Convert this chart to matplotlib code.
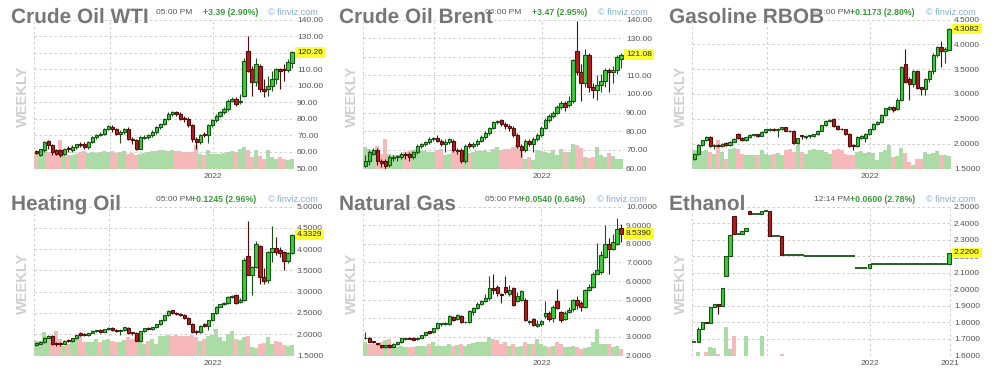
"""
Six weekly futures charts (finviz style): candlesticks with volume behind them.
"""

import numpy as np
import matplotlib.pyplot as plt
import matplotlib.patheffects as pe
from matplotlib.ticker import FormatStrFormatter, MultipleLocator
from matplotlib.transforms import blended_transform_factory

plt.rcParams["font.family"] = ["Liberation Sans", "DejaVu Sans"]

# ---------------------------------------------------------------- data
wti_open = [60.5, 58, 61, 66.5, 64, 61, 61, 58.5, 62.5, 61, 63, 65, 65, 63, 66, 69, 70, 71, 74, 75,
            74, 71, 72, 74, 68, 67, 62, 68.5, 69, 70, 72, 75, 77, 80, 83, 84, 83, 80.5, 80, 76,
            68, 66, 71, 70, 76, 79, 82, 84, 86, 91, 92, 90, 94, 121, 110, 102, 112, 98, 98, 100,
            104, 110, 110, 109.5, 114]
wti_high = [61, 62, 66.5, 67, 65, 62, 62, 62.5, 63.5, 64, 65, 66, 66, 66.5, 69.5, 71, 72, 74.5, 76, 76.5,
            74.5, 73, 74.5, 75, 69, 68, 69.5, 70, 71, 73, 75.5, 77.5, 80.5, 84, 85, 85, 84, 82, 81, 77,
            69, 71, 72, 77, 80, 83, 85, 87, 92, 93, 93, 95, 117, 130, 112, 116.5, 113, 104, 106, 109,
            111, 111, 113, 116, 121]
wti_low = [58.5, 57.5, 60, 62, 58, 58, 57, 58, 60, 60, 62, 63, 62, 62, 65.5, 68, 69.5, 70.5, 73, 72,
           70, 65.5, 71, 67, 65, 61, 61.5, 68, 68, 69, 71, 74, 76, 79, 82, 82, 79, 78, 75, 66,
           62, 65, 69, 65.5, 75, 78, 81, 83, 85, 90, 88, 89, 93, 108, 94, 100, 96, 93, 94, 97,
           101, 98, 103, 108, 111]
wti_close = [59.2, 61.5, 66, 64, 60, 59, 58, 62, 61.5, 63, 64.5, 64, 63, 66, 69, 70, 71, 74, 75.5, 74,
             71, 72, 74, 68, 67, 62, 69, 69.3, 70, 72, 75, 77, 80, 83, 84, 83, 80, 80, 76, 68,
             66, 70, 70.5, 76, 79, 82, 84, 86, 91, 92, 89, 91, 115, 109, 102, 113, 98, 97, 100, 104,
             110, 109, 109.5, 114.5, 120.26]
wti_vol = [45, 50, 52, 50, 50, 55, 85, 45, 40, 42, 45, 50, 52, 48, 50, 48, 50, 52, 50, 52,
           48, 50, 52, 45, 48, 42, 45, 48, 50, 52, 52, 55, 55, 54, 56, 52, 52, 50, 50, 50,
           70, 45, 40, 55, 45, 45, 45, 48, 50, 52, 50, 60, 65, 55, 35, 55, 38, 30, 55, 35,
           30, 35, 30, 25, 28]

brent_open = [61.5, 64, 68, 70, 64, 64, 62, 65.5, 66, 66, 68, 68, 66, 69, 72, 73, 74, 76, 76.5, 75,
              73, 74, 75, 70, 70, 64, 73, 72, 73, 75, 77, 79, 82, 85, 86, 84, 83, 82, 78, 72,
              70, 75, 73, 76, 78, 82, 86, 88, 90, 93, 95, 94, 96, 123, 112, 106, 121, 104, 102, 105,
              107, 113, 112, 113, 119]
brent_high = [67, 70, 71, 71, 65, 65, 67, 67, 67.5, 69, 69, 69, 69.5, 73, 73.5, 75, 77, 77, 78, 76,
              76, 76.5, 76, 71, 71, 73, 74, 74, 76, 78, 80, 82.5, 85.5, 86, 86.5, 85, 84, 83, 79, 73,
              76, 76, 77, 79, 83, 87, 89, 91, 94, 96, 96, 99, 119, 139, 116, 124, 122, 106, 110, 111,
              114, 114, 115, 121, 122]
brent_low = [61, 62, 67, 62, 61, 60, 61, 64, 64, 65, 65, 64, 65, 68, 71, 72, 73, 75, 74, 72,
             69, 73, 69, 68, 63, 63, 71, 71, 72, 74, 76, 78, 81, 84, 83, 81, 80, 77, 71, 66,
             69, 72, 69, 75, 77, 81, 85, 87, 89, 92, 91, 93, 95, 110, 96, 104, 101, 98, 97, 101,
             104, 101, 106, 111, 114]
brent_close = [64, 69, 70, 64, 63, 61.5, 66, 66, 66.5, 68, 67, 66, 69, 72, 73, 74, 76, 76.5, 75, 73,
               74, 76, 70, 69.5, 64, 72, 72, 73, 75, 77, 79, 82, 85, 85.5, 84, 83, 82, 78, 72, 70,
               75, 73, 76, 78, 82, 86, 88, 90, 93, 95, 93, 96, 118, 112, 106, 121, 104, 102, 105, 107,
               113, 112, 113, 120, 121.08]
brent_vol = [65, 60, 55, 68, 45, 88, 45, 40, 42, 45, 50, 52, 55, 60, 55, 52, 50, 50, 55, 58,
             40, 45, 55, 50, 45, 50, 48, 50, 52, 52, 55, 50, 60, 65, 55, 60, 58, 65, 70, 58,
             30, 35, 25, 55, 52, 50, 48, 55, 40, 60, 50, 50, 75, 70, 62, 35, 32, 35, 65, 40,
             35, 48, 38, 30, 30]

gas_open = [1.70, 1.80, 1.98, 2.07, 2.13, 1.95, 1.98, 1.96, 2.01, 1.97, 2.04, 2.20, 2.12, 2.08, 2.13,
            2.18, 2.19, 2.16, 2.24, 2.28, 2.30, 2.27, 2.30, 2.33, 2.26, 2.26, 2.01, 2.17, 2.14, 2.15,
            2.16, 2.19, 2.26, 2.37, 2.46, 2.50, 2.35, 2.30, 2.29, 2.20, 1.98, 1.95, 2.12, 2.12, 2.20,
            2.29, 2.40, 2.44, 2.58, 2.70, 2.73, 2.69, 2.88, 3.60, 3.30, 3.20, 3.46, 3.14, 3.10, 3.30,
            3.46, 3.79, 3.95, 3.86, 3.89]
gas_high = [1.82, 2.00, 2.08, 2.15, 2.16, 2.00, 2.00, 2.02, 2.03, 2.05, 2.11, 2.21, 2.14, 2.14, 2.19,
            2.20, 2.20, 2.25, 2.30, 2.31, 2.31, 2.32, 2.34, 2.34, 2.28, 2.27, 2.12, 2.18, 2.17, 2.18,
            2.20, 2.27, 2.38, 2.48, 2.49, 2.52, 2.38, 2.31, 2.30, 2.21, 2.00, 2.15, 2.17, 2.21, 2.30,
            2.41, 2.45, 2.59, 2.72, 2.76, 2.76, 2.91, 3.57, 3.90, 3.35, 3.48, 3.48, 3.15, 3.33, 3.48,
            3.82, 3.97, 4.06, 3.95, 4.32]
gas_low = [1.68, 1.78, 1.96, 2.05, 1.93, 1.90, 1.93, 1.94, 1.96, 1.95, 2.03, 2.10, 2.05, 2.06, 2.12,
           2.16, 2.13, 2.15, 2.22, 2.26, 2.25, 2.13, 2.28, 2.25, 2.23, 2.00, 2.00, 2.10, 2.09, 2.12,
           2.13, 2.17, 2.25, 2.35, 2.43, 2.34, 2.28, 2.27, 2.18, 1.94, 1.88, 1.93, 2.10, 2.03, 2.17,
           2.27, 2.38, 2.42, 2.56, 2.68, 2.64, 2.67, 2.86, 3.22, 2.88, 3.14, 3.10, 2.97, 2.98, 3.25,
           3.40, 3.75, 3.55, 3.62, 3.88]
gas_close = [1.80, 1.98, 2.07, 2.13, 1.95, 1.98, 1.96, 2.00, 1.98, 2.04, 2.10, 2.12, 2.07, 2.13, 2.18,
             2.19, 2.16, 2.24, 2.29, 2.30, 2.27, 2.30, 2.33, 2.26, 2.25, 2.02, 2.11, 2.15, 2.16, 2.17,
             2.19, 2.26, 2.37, 2.46, 2.47, 2.36, 2.30, 2.29, 2.20, 1.96, 1.95, 2.13, 2.15, 2.20, 2.29,
             2.40, 2.44, 2.58, 2.71, 2.74, 2.67, 2.88, 3.55, 3.25, 3.20, 3.46, 3.13, 3.10, 3.30, 3.46,
             3.79, 3.95, 3.86, 3.90, 4.3082]
gas_vol = [55, 55, 52, 55, 50, 45, 85, 50, 30, 60, 62, 60, 45, 40, 42, 40, 40, 55, 45, 40,
           45, 48, 42, 55, 60, 50, 70, 50, 45, 55, 58, 55, 55, 50, 45, 55, 58, 55, 45, 42,
           40, 50, 52, 48, 50, 48, 25, 50, 55, 70, 35, 38, 62, 48, 20, 12, 30, 30, 50, 45,
           48, 52, 40, 40, 38]

heat_open = [1.74, 1.78, 1.82, 1.92, 1.95, 1.80, 1.80, 1.78, 1.86, 1.84, 1.90, 2.03, 2.00, 1.97, 2.03,
             2.08, 2.09, 2.06, 2.12, 2.14, 2.10, 2.08, 2.10, 2.15, 2.05, 2.04, 1.84, 2.07, 2.14, 2.12,
             2.17, 2.23, 2.33, 2.45, 2.56, 2.50, 2.48, 2.45, 2.38, 2.25, 2.08, 2.06, 2.24, 2.20, 2.33,
             2.50, 2.65, 2.70, 2.73, 2.88, 2.92, 2.76, 2.80, 3.83, 3.40, 3.58, 4.07, 3.35, 3.28, 3.93,
             4.02, 3.98, 3.93, 3.72, 3.90]
heat_high = [1.82, 1.84, 1.94, 1.97, 1.97, 1.82, 1.82, 1.87, 1.88, 1.91, 1.98, 2.05, 2.02, 2.04, 2.10,
             2.11, 2.12, 2.13, 2.16, 2.17, 2.12, 2.12, 2.17, 2.16, 2.06, 2.05, 2.08, 2.15, 2.16, 2.18,
             2.24, 2.34, 2.46, 2.57, 2.58, 2.52, 2.50, 2.47, 2.40, 2.26, 2.10, 2.22, 2.26, 2.34, 2.51,
             2.66, 2.71, 2.75, 2.89, 2.93, 2.94, 2.85, 3.78, 4.65, 3.60, 4.18, 4.10, 3.55, 3.95, 4.55,
             4.28, 4.05, 3.95, 3.92, 4.35]
heat_low = [1.73, 1.76, 1.80, 1.90, 1.75, 1.72, 1.72, 1.76, 1.82, 1.82, 1.88, 1.95, 1.95, 1.96, 2.02,
            2.06, 2.04, 2.05, 2.10, 2.08, 2.05, 1.98, 2.08, 2.01, 1.99, 1.83, 1.83, 2.05, 2.10, 2.10,
            2.15, 2.21, 2.31, 2.43, 2.48, 2.46, 2.42, 2.35, 2.23, 2.04, 2.00, 2.04, 2.18, 2.10, 2.31,
            2.48, 2.63, 2.68, 2.70, 2.85, 2.70, 2.74, 2.78, 3.38, 2.92, 3.55, 3.18, 3.17, 3.20, 3.70,
            3.85, 3.82, 3.50, 3.68, 3.88]
heat_close = [1.80, 1.82, 1.92, 1.95, 1.78, 1.78, 1.77, 1.85, 1.84, 1.90, 1.97, 1.97, 1.97, 2.03, 2.08,
              2.09, 2.06, 2.12, 2.14, 2.10, 2.08, 2.10, 2.16, 2.03, 2.03, 1.85, 2.07, 2.14, 2.12, 2.17,
              2.23, 2.33, 2.45, 2.55, 2.50, 2.48, 2.44, 2.38, 2.25, 2.06, 2.06, 2.20, 2.20, 2.33, 2.50,
              2.65, 2.70, 2.73, 2.88, 2.90, 2.74, 2.80, 3.75, 3.40, 3.58, 4.12, 3.35, 3.25, 3.93, 4.02,
              3.93, 3.90, 3.72, 3.90, 4.3329]
heat_vol = [45, 45, 70, 60, 60, 73, 50, 30, 35, 45, 50, 65, 40, 40, 42, 50, 40, 48, 50, 45,
            42, 40, 48, 55, 50, 55, 55, 35, 45, 50, 35, 60, 60, 62, 60, 62, 60, 58, 60, 62,
            55, 45, 50, 60, 62, 80, 55, 45, 65, 75, 50, 48, 55, 60, 25, 22, 35, 38, 55, 35,
            45, 42, 32, 28, 32]

ng_open = [2.93, 2.95, 2.78, 2.65, 2.55, 2.45, 2.55, 2.47, 2.60, 2.70, 2.88, 2.95, 2.95, 2.88, 2.95,
           3.10, 3.30, 3.25, 3.45, 3.70, 3.68, 3.68, 4.05, 3.95, 4.10, 3.80, 3.80, 4.35, 4.55, 4.75,
           4.95, 5.10, 5.65, 5.70, 5.30, 5.70, 5.30, 5.60, 4.90, 5.00, 5.00, 3.80, 3.95, 3.60, 3.70,
           4.10, 4.30, 4.00, 4.90, 4.35, 3.95, 4.35, 4.50, 5.00, 4.80, 4.60, 5.50, 5.70, 6.40, 6.50,
           7.30, 8.00, 7.70, 8.00, 8.85]
ng_high = [3.25, 2.97, 2.80, 2.68, 2.57, 2.58, 2.60, 2.65, 2.72, 2.94, 2.95, 2.98, 2.98, 2.98, 3.12,
           3.28, 3.32, 3.50, 3.80, 3.75, 3.78, 4.15, 4.10, 4.22, 4.20, 3.85, 4.45, 4.60, 4.85, 5.00,
           5.30, 6.25, 6.40, 5.80, 5.35, 6.25, 5.80, 5.70, 5.40, 5.50, 5.10, 3.90, 4.00, 3.90, 3.90,
           4.90, 4.40, 4.70, 5.55, 4.40, 4.40, 4.60, 5.05, 5.20, 4.90, 5.55, 5.85, 6.50, 8.05, 7.60,
           9.00, 8.30, 8.50, 9.40, 9.05]
ng_low = [2.90, 2.70, 2.65, 2.55, 2.40, 2.42, 2.42, 2.45, 2.58, 2.68, 2.85, 2.86, 2.83, 2.85, 2.93,
          3.05, 3.15, 3.22, 3.40, 3.60, 3.62, 3.65, 3.85, 3.90, 3.75, 3.75, 3.75, 4.15, 4.50, 4.70,
          4.85, 5.00, 5.30, 5.20, 4.80, 5.30, 5.20, 4.65, 4.85, 4.90, 3.85, 3.70, 3.60, 3.55, 3.60,
          4.00, 3.85, 3.80, 4.50, 3.80, 3.90, 4.30, 4.40, 4.50, 4.40, 4.55, 5.45, 5.65, 6.35, 6.40,
          7.25, 6.40, 7.65, 7.95, 8.10]
ng_close = [2.96, 2.72, 2.70, 2.60, 2.45, 2.55, 2.45, 2.62, 2.70, 2.92, 2.92, 2.90, 2.85, 2.95, 3.10,
            3.25, 3.20, 3.45, 3.75, 3.72, 3.72, 4.10, 3.92, 4.15, 3.80, 3.82, 4.40, 4.55, 4.75, 4.95,
            5.10, 5.60, 5.50, 5.35, 5.25, 5.40, 5.50, 4.70, 5.20, 5.45, 3.90, 3.85, 3.65, 3.70, 3.85,
            4.30, 3.95, 4.60, 4.55, 3.90, 4.30, 4.45, 5.00, 4.70, 4.60, 5.50, 5.70, 6.40, 6.60, 7.40,
            8.00, 7.70, 8.10, 8.80, 8.539]
ng_vol = [40, 35, 35, 35, 40, 48, 50, 25, 25, 28, 25, 25, 25, 30, 28, 30, 35, 40, 30, 28,
          30, 35, 30, 32, 35, 30, 35, 38, 40, 42, 40, 55, 50, 48, 35, 40, 30, 35, 25, 30,
          40, 35, 35, 50, 35, 30, 25, 30, 40, 35, 25, 25, 28, 25, 20, 22, 25, 40, 80, 35,
          35, 35, 25, 30, 20]

eth_open = [1.684, 1.684, 1.76, 1.80, 1.795, 1.89, 1.91, 1.90, 2.08, 2.20, 2.44, 2.335, 2.335, 2.35, 2.47,
            2.455, 2.455, 2.455, 2.47, 2.47, 2.32, 2.32, 2.32, 2.21, 2.21, 2.21, 2.21, 2.21, 2.20, 2.20,
            2.20, 2.20, 2.20, 2.20, 2.20, 2.20, 2.20, 2.20, 2.20, 2.20, 2.20, 2.13, 2.13, 2.13, 2.13,
            2.155, 2.155, 2.155, 2.155, 2.155, 2.155, 2.155, 2.155, 2.155, 2.155, 2.155, 2.155, 2.155,
            2.155, 2.155, 2.155, 2.155, 2.155, 2.155, 2.155]
eth_high = [1.684, 1.77, 1.80, 1.80, 1.89, 1.91, 1.91, 2.01, 2.20, 2.33, 2.44, 2.335, 2.35, 2.37, 2.47,
            2.455, 2.455, 2.47, 2.47, 2.47, 2.32, 2.32, 2.32, 2.21, 2.21, 2.21, 2.21, 2.21, 2.20, 2.20,
            2.20, 2.20, 2.20, 2.20, 2.20, 2.20, 2.20, 2.20, 2.20, 2.20, 2.20, 2.13, 2.13, 2.13, 2.155,
            2.155, 2.155, 2.155, 2.155, 2.155, 2.155, 2.155, 2.155, 2.155, 2.155, 2.155, 2.155, 2.155,
            2.155, 2.155, 2.155, 2.155, 2.155, 2.155, 2.22]
eth_low = [1.684, 1.684, 1.76, 1.795, 1.795, 1.89, 1.85, 1.90, 2.08, 2.20, 2.335, 2.335, 2.335, 2.35, 2.455,
           2.455, 2.455, 2.455, 2.47, 2.32, 2.32, 2.32, 2.21, 2.21, 2.21, 2.21, 2.21, 2.21, 2.20, 2.20,
           2.20, 2.20, 2.20, 2.20, 2.20, 2.20, 2.20, 2.20, 2.20, 2.20, 2.20, 2.13, 2.13, 2.13, 2.13,
           2.155, 2.155, 2.155, 2.155, 2.155, 2.155, 2.155, 2.155, 2.155, 2.155, 2.155, 2.155, 2.155,
           2.155, 2.155, 2.155, 2.155, 2.155, 2.155, 2.155]
eth_close = [1.684, 1.76, 1.80, 1.795, 1.89, 1.91, 1.90, 2.01, 2.20, 2.33, 2.335, 2.335, 2.35, 2.37, 2.455,
             2.455, 2.455, 2.47, 2.47, 2.32, 2.32, 2.32, 2.21, 2.21, 2.21, 2.21, 2.21, 2.21, 2.20, 2.20,
             2.20, 2.20, 2.20, 2.20, 2.20, 2.20, 2.20, 2.20, 2.20, 2.20, 2.20, 2.13, 2.13, 2.13, 2.155,
             2.155, 2.155, 2.155, 2.155, 2.155, 2.155, 2.155, 2.155, 2.155, 2.155, 2.155, 2.155, 2.155,
             2.155, 2.155, 2.155, 2.155, 2.155, 2.155, 2.22]
eth_vol = [0, 12, 0, 12, 27, 22, 5, 0, 85, 19, 58, 0, 0, 60, 0, 0, 0, 60, 0, 0,
           0, 0, 5, 0, 0, 0, 0, 0, 0, 0, 0, 0, 0, 0, 0, 0, 0, 0, 0, 0,
           0, 0, 0, 0, 0, 0, 0, 0, 0, 0, 0, 0, 0, 0, 0, 0, 0, 0, 0, 0,
           0, 0, 0, 0, 0]

# year separators, in candle index units, and their labels
year_x = [[18.5, 44.3], [17.2, 44.25], [18.3, 44.2], [18.2, 44.2], [18.25, 44.1], [18.25, 44.1, 64.3]]
year_labels = [["", "2022"]] * 5 + [["", "2022", "2021"]]

names = ["Crude Oil WTI", "Crude Oil Brent", "Gasoline RBOB", "Heating Oil", "Natural Gas", "Ethanol"]
times = ["05:00 PM", "05:00 PM", "05:00 PM", "05:00 PM", "05:00 PM", "12:14 PM"]
changes = ["+3.39 (2.90%)", "+3.47 (2.95%)", "+0.1173 (2.80%)", "+0.1245 (2.96%)",
           "+0.0540 (0.64%)", "+0.0600 (2.78%)"]

# ---------------------------------------------------------------- style
FIG_W, FIG_H = 994, 374
GREEN, GREEN_EDGE = "#38cf38", "#175217"
RED, RED_EDGE = "#b31c1c", "#550b0b"
VOL_GREEN, VOL_RED = "#abdca5", "#f7b8ba"
GRID = "#c6c6c6"
DASH = (0, (3, 3))
PLOT_X = [(34, 295), (32, 293), (30, 290)]     # plot box inside each column
TITLE_X = [11, 8, 7]
WEEKLY_X = [22.5, 21, 19]
HEADER_X = [(156, 203, 268), (154, 201, 267), (152, 188, 264),
            (156, 191, 268), (154, 189, 266), (152, 188, 264)]


def fig_rect(x0, y0, x1, y1):
    return [x0 / FIG_W, 1 - y1 / FIG_H, (x1 - x0) / FIG_W, (y1 - y0) / FIG_H]


def draw_panel(fig, i, p):
    col, row = i % 3, i // 3
    ox, oy = col * 331, row * 187
    x0, x1 = PLOT_X[col]
    rect = fig_rect(ox + x0, oy + 19.5, ox + x1, oy + 168.5)

    o, h, l, c = (np.asarray(p[k], float) for k in ("o", "h", "l", "c"))
    x = np.arange(len(c))
    up = c >= o
    flat = np.isclose(o, c)   # unchanged weeks show as a joined flat line

    # volume in its own axes underneath
    axv = fig.add_axes(rect)
    axv.set_axis_off()
    axv.bar(x, p["v"], width=1.0, color=np.where(up, VOL_GREEN, VOL_RED), linewidth=0)
    axv.set_ylim(0, 448)

    ax = fig.add_axes(rect, sharex=axv)
    ax.patch.set_visible(False)
    ax.vlines(x, l, h, colors=np.where(up, GREEN_EDGE, RED_EDGE), linewidth=0.8, zorder=3)
    ax.bar(x, np.abs(c - o), bottom=np.minimum(o, c), width=np.where(flat, 1.0, 0.78),
           color=np.where(up, GREEN, RED), edgecolor=np.where(up, GREEN_EDGE, RED_EDGE),
           linewidth=np.where(flat, 1.3, 0.8), zorder=4)

    xlim = (-0.55, len(c) - 0.25)
    ax.set_xlim(*xlim)
    ax.set_ylim(*p["ylim"])
    ax.yaxis.set_major_locator(MultipleLocator(p["step"]))
    ax.yaxis.set_major_formatter(FormatStrFormatter(p["fmt"]))
    ax.yaxis.tick_right()
    ax.set_xticks(p["xt"])
    ax.set_xticklabels(p["xl"])
    ax.tick_params(axis="both", length=0, labelsize=6, colors="#555555")
    ax.tick_params(axis="y", pad=1.5)
    ax.tick_params(axis="x", pad=3)
    ax.grid(True, color=GRID, linestyle=DASH, linewidth=0.6)
    for edge in xlim:
        ax.axvline(edge, color=GRID, linestyle=DASH, linewidth=0.6)
    for s in ax.spines.values():
        s.set_visible(False)

    # last price tag
    tr = blended_transform_factory(ax.transAxes, ax.transData)
    ax.text(1.008, c[-1], p["fmt"] % c[-1], transform=tr, fontsize=6, color="#222222",
            ha="left", va="center", zorder=10, clip_on=False,
            bbox=dict(boxstyle="square,pad=0.22", fc="#ffff2e", ec="none"))

    # header line
    tx, cx, fx = HEADER_X[i]
    hy = 1 - (oy + 12.5) / FIG_H
    fig.text((ox + tx) / FIG_W, hy, p["time"], fontsize=6, color="#555555", va="center")
    fig.text((ox + cx) / FIG_W, hy, p["change"], fontsize=6.3, fontweight="bold",
             color="#3a9a3a", va="center")
    fig.text((ox + fx) / FIG_W, hy, "\u00a9 finviz.com", fontsize=6.6, color="#86aed0", va="center")

    fig.text((ox + WEEKLY_X[col]) / FIG_W, 1 - (oy + 96) / FIG_H, "WEEKLY", rotation=90,
             fontsize=10.5, fontweight="bold", color="#cfcfcf", ha="center", va="center")
    fig.text((ox + TITLE_X[col]) / FIG_W, 1 - (oy + 23) / FIG_H, p["name"], fontsize=15,
             fontweight="bold", color="#777777", va="baseline", zorder=5,
             path_effects=[pe.withStroke(linewidth=1.2, foreground="white")])


def main() -> None:
    series = [
        (wti_open, wti_high, wti_low, wti_close, wti_vol, (50, 140), 10, "%.2f"),
        (brent_open, brent_high, brent_low, brent_close, brent_vol, (60, 140), 10, "%.2f"),
        (gas_open, gas_high, gas_low, gas_close, gas_vol, (1.5, 4.5), 0.5, "%.4f"),
        (heat_open, heat_high, heat_low, heat_close, heat_vol, (1.5, 5.0), 0.5, "%.4f"),
        (ng_open, ng_high, ng_low, ng_close, ng_vol, (2.0, 10.0), 1.0, "%.4f"),
        (eth_open, eth_high, eth_low, eth_close, eth_vol, (1.6, 2.5), 0.1, "%.4f"),
    ]

    fig = plt.figure(figsize=(FIG_W / 100, FIG_H / 100), dpi=100)
    fig.patch.set_facecolor("white")
    for i, (o, h, l, c, v, ylim, step, fmt) in enumerate(series):
        p = dict(o=o, h=h, l=l, c=c, v=v, ylim=ylim, step=step, fmt=fmt,
                 xt=year_x[i], xl=year_labels[i], name=names[i],
                 time=times[i], change=changes[i])
        draw_panel(fig, i, p)

    fig.savefig("out.png", dpi=100)


if __name__ == "__main__":
    main()
